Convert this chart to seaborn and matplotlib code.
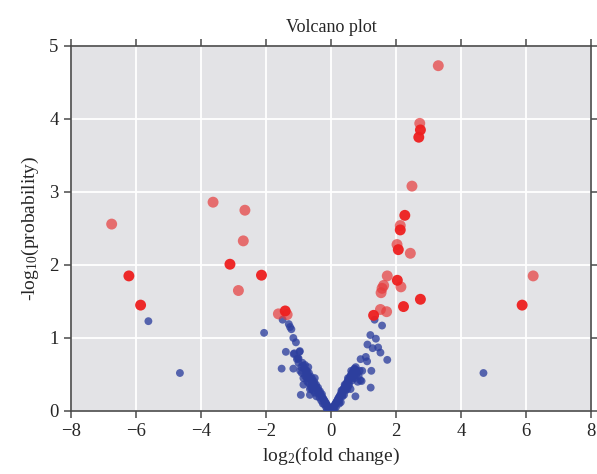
import matplotlib
matplotlib.use("Agg")
import matplotlib.pyplot as plt
import seaborn as sns
import pandas as pd

# Significant points, strongly coloured
red_strong_x = [2.75, 2.70, 2.27, 2.13, 2.07, 2.04, 2.75, 2.23, 1.31, -3.11, -2.14, -6.22, -5.86, -1.41, 5.88]
red_strong_y = [3.85, 3.75, 2.68, 2.48, 2.21, 1.79, 1.53, 1.43, 1.31, 2.01, 1.86, 1.85, 1.45, 1.37, 1.45]

# Significant points, lighter
red_light_x = [3.30, 2.73, 2.49, 2.13, 2.03, 2.44, 1.73, 1.62, 1.57, 1.54, 2.15, 1.52, 1.71,
               -3.63, -2.65, -6.75, -2.70, -2.85, -1.62, -1.35, 6.22]
red_light_y = [4.73, 3.94, 3.08, 2.54, 2.28, 2.16, 1.85, 1.72, 1.68, 1.62, 1.70, 1.39, 1.36,
               2.86, 2.75, 2.56, 2.33, 1.65, 1.33, 1.32, 1.85]

# Non-significant points
blue_x = [-5.62, -4.65, -2.06, 4.69,
          -1.49, -1.30, -1.26, -1.22, -1.16, -1.08, -1.39, -0.96, -1.15, -1.00, -1.52, -1.16,
          -0.93, -0.85, -0.65, -1.02, -0.97, -1.00, -0.92, -0.95, -1.13, -1.05,
          -0.88, -0.85, -0.83, -0.80, -0.78, -0.76, -0.74, -0.72, -0.70, -0.68, -0.66, -0.64,
          -0.62, -0.60, -0.58, -0.56, -0.54, -0.52, -0.50, -0.48, -0.46, -0.44, -0.42, -0.40,
          -0.38, -0.36, -0.34, -0.32, -0.30, -0.28, -0.26, -0.24, -0.22, -0.20, -0.18, -0.16,
          -0.14, -0.12, -0.10, -0.08, -0.06, -0.04, -0.02, -0.65, -0.62, -0.73, -0.55, -0.45,
          -0.70, -0.90, -0.85, -0.50, -0.12, -0.05, 0.00, 0.05, 0.10,
          -0.75, -0.60, -0.50, -0.35, -0.25, -0.15, -0.80, -0.68, -0.58, -0.40, -0.30, -0.20,
          1.34, 1.57, 1.21, 1.38, 1.12, 1.28, 1.45, 1.52, 1.73, 0.91, 1.07, 1.11, 0.96, 1.24,
          1.22, 0.75, 0.94,
          0.02, 0.04, 0.06, 0.08, 0.10, 0.12, 0.14, 0.16, 0.18, 0.20, 0.22, 0.24, 0.26, 0.28,
          0.30, 0.32, 0.34, 0.36, 0.38, 0.40, 0.42, 0.44, 0.46, 0.48, 0.50, 0.52, 0.54, 0.56,
          0.58, 0.60, 0.62, 0.64, 0.66, 0.68, 0.70, 0.72, 0.74, 0.76, 0.78, 0.80, 0.35, 0.45,
          0.55, 0.65, 0.30, 0.40, 0.60, 0.72, 0.25, 0.50, 0.85, 0.88, 0.82, 0.90,
          0.15, 0.25, 0.35, 0.45, 0.55, 0.65, 0.70, 0.78, 0.62, 0.52, 0.42, 0.32]
blue_y = [1.23, 0.52, 1.07, 0.52,
          1.25, 1.19, 1.15, 1.12, 1.00, 0.94, 0.81, 0.82, 0.78, 0.72, 0.58, 0.58,
          0.22, 0.36, 0.22, 0.72, 0.81, 0.66, 0.60, 0.55, 0.79, 0.71,
          0.66, 0.62, 0.58, 0.63, 0.56, 0.52, 0.55, 0.50, 0.47, 0.52, 0.46, 0.43,
          0.47, 0.41, 0.44, 0.39, 0.36, 0.40, 0.35, 0.33, 0.36, 0.31, 0.29, 0.32,
          0.27, 0.25, 0.27, 0.22, 0.21, 0.23, 0.18, 0.17, 0.15, 0.14, 0.12, 0.11,
          0.09, 0.08, 0.06, 0.05, 0.04, 0.02, 0.01, 0.30, 0.32, 0.40, 0.28, 0.20,
          0.60, 0.52, 0.45, 0.45, 0.02, 0.01, 0.00, 0.01, 0.03,
          0.45, 0.35, 0.25, 0.18, 0.10, 0.05, 0.48, 0.38, 0.30, 0.24, 0.14, 0.09,
          1.25, 1.17, 1.04, 0.99, 0.91, 0.86, 0.87, 0.80, 0.70, 0.71, 0.74, 0.68, 0.55, 0.55,
          0.32, 0.20, 0.41,
          0.01, 0.03, 0.04, 0.06, 0.07, 0.09, 0.10, 0.12, 0.13, 0.15, 0.17, 0.18, 0.20, 0.21,
          0.23, 0.25, 0.26, 0.28, 0.30, 0.31, 0.33, 0.35, 0.36, 0.38, 0.40, 0.41, 0.43, 0.45,
          0.46, 0.48, 0.50, 0.51, 0.53, 0.54, 0.56, 0.58, 0.57, 0.60, 0.55, 0.52, 0.20, 0.28,
          0.35, 0.42, 0.12, 0.22, 0.30, 0.45, 0.10, 0.30, 0.48, 0.55, 0.40, 0.42,
          0.05, 0.14, 0.22, 0.30, 0.38, 0.45, 0.48, 0.50, 0.55, 0.45, 0.36, 0.28]

x_ticks = [-8, -6, -4, -2, 0, 2, 4, 6, 8]
y_ticks = [0, 1, 2, 3, 4, 5]

sns.set_style("darkgrid", {"axes.facecolor": "#E3E3E6", "grid.color": "white"})
plt.rcParams["font.family"] = ["Liberation Serif", "DejaVu Serif"]
plt.rcParams["mathtext.fontset"] = "custom"
plt.rcParams["mathtext.rm"] = "Liberation Serif"
plt.rcParams["mathtext.it"] = "Liberation Serif:italic"

fig = plt.figure(figsize=(5.97, 4.74), dpi=100)
ax = fig.add_axes([0.119, 0.133, 0.871, 0.770])

df_blue = pd.DataFrame({"x": blue_x, "y": blue_y})
df_rl = pd.DataFrame({"x": red_light_x, "y": red_light_y})
df_rs = pd.DataFrame({"x": red_strong_x, "y": red_strong_y})

sns.scatterplot(data=df_blue, x="x", y="y", ax=ax, color="#2D3F9E", s=32, alpha=0.78,
                edgecolor="none", zorder=3)
sns.scatterplot(data=df_rl, x="x", y="y", ax=ax, color="#E63B3B", s=62, alpha=0.7,
                edgecolor="none", zorder=4)
sns.scatterplot(data=df_rs, x="x", y="y", ax=ax, color="#EE1F1F", s=62, alpha=0.95,
                edgecolor="none", zorder=5)

ax.set_xlim(-8, 8)
ax.set_ylim(0, 5)
ax.set_xticks(x_ticks)
ax.set_yticks(y_ticks)
ax.set_xticklabels(["\u2212" + str(-t) if t < 0 else str(t) for t in x_ticks])
ax.grid(True, color="white", linewidth=1.3)
ax.set_axisbelow(True)

for sp in ax.spines.values():
    sp.set_visible(True)
    sp.set_color("#4A4A4A")
    sp.set_linewidth(1.2)

ax.tick_params(axis="both", which="both", direction="out", length=5, width=1.1,
               color="#4A4A4A", labelsize=13.5, top=True, right=True,
               bottom=True, left=True, labeltop=False, labelright=False, pad=4)

ax.set_title("Volcano plot", fontsize=13, pad=10)
ax.set_xlabel(r"log$_2$(fold change)", fontsize=14, labelpad=4)
ax.set_ylabel(r"-log$_{10}$(probability)", fontsize=14, labelpad=6)

fig.savefig("out.png", dpi=100)
